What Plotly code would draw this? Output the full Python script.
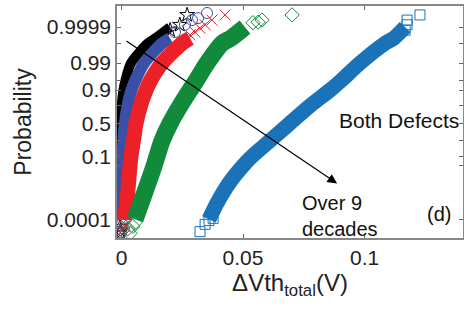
import plotly.graph_objects as go
from statistics import NormalDist

ND = NormalDist()

def z(p):
    return [ND.inv_cdf(v) for v in p]

# ---------------- data (probability, ΔVth_total in V) ----------------
# probability levels at which each band was read
band_p = [1e-4, 0.001, 0.01, 0.05, 0.1, 0.25, 0.5, 0.75, 0.9, 0.95, 0.99, 0.999, 0.9995, 0.9999]

black_band_x = [-0.0006, -0.0006, -0.0006, -0.0006, -0.0005, -0.0004, -0.0002, 0.0001, 0.0008, 0.0016, 0.0039, 0.0109, 0.0140, 0.0200]
blue_band_x = [0.0, 0.0001, 0.0002, 0.0004, 0.0005, 0.0008, 0.0014, 0.0025, 0.0041, 0.0056, 0.0093, 0.0167, 0.0200, None]
red_band_x = [0.0012, 0.0021, 0.0029, 0.0035, 0.0039, 0.0049, 0.0060, 0.0078, 0.0101, 0.0119, 0.0167, 0.0249, 0.0282, None]
green_band_x = [0.0056, 0.0080, 0.0109, 0.0134, 0.0146, 0.0167, 0.0200, 0.0241, 0.0282, 0.0307, 0.0352, 0.0414, 0.0450, 0.0508]
sky_band_x = [0.0360, 0.0393, 0.0442, 0.0500, 0.0537, 0.0611, 0.0693, 0.0776, 0.0858, 0.0903, 0.0981, 0.1084, 0.1120, 0.1167]

# sparse extreme points (drawn as individual open markers)
black_tail_p = [1.2e-5, 1.7e-5, 3.0e-5, 0.99984, 0.99993, 0.999986]
black_tail_x = [-0.0006, -0.0004, -0.0006, 0.020, 0.024, 0.027]
blue_tail_p = [1.2e-5, 2.4e-5, 5.0e-5, 0.99979, 0.99993, 0.999967, 0.999976, 0.99999]
blue_tail_x = [-0.0002, 0.001, 0.0003, 0.022, 0.0261, 0.029, 0.0315, 0.0352]
red_tail_p = [1.7e-5, 3.3e-5, 6.0e-5, 0.99968, 0.99979, 0.99988, 0.99993, 0.999967, 0.999986]
red_tail_x = [0.0002, 0.0014, 0.0008, 0.0282, 0.0302, 0.0323, 0.0344, 0.0372, 0.0426]
green_tail_p = [2.35e-5, 1.02e-5, 3.3e-5, 6.15e-5, 0.99995, 0.999954, 0.999967, 0.999986]
green_tail_x = [0.0027, 0.0035, 0.0047, 0.0056, 0.0541, 0.0562, 0.0578, 0.0702]
sky_tail_p = [1.39e-5, 4.6e-5, 8.5e-5, 1.17e-4, 0.99984, 0.99993, 0.999967, 0.999986]
sky_tail_x = [0.0323, 0.0344, 0.0360, 0.0377, 0.1167, 0.1175, 0.1175, 0.1228]

ytick_probs = [0.0001, 0.1, 0.5, 0.9, 0.99, 0.9999]
ytick_labels = ["0.0001", "0.1", "0.5", "0.9", "0.99", "0.9999"]
yminor_probs = [0.05, 0.25, 0.75, 0.95, 0.999]
xtick_vals = [0, 0.05, 0.1]
xtick_labels = ["0", "0.05", "0.1"]

FONT = "Liberation Sans, Arial, sans-serif"

series = [
    (black_band_x, black_tail_x, black_tail_p, "#000000", "star-open", 10, 11),
    (blue_band_x, blue_tail_x, blue_tail_p, "#3c4fa6", "circle-open", 12, 11),
    (red_band_x, red_tail_x, red_tail_p, "#ec2027", "x-thin-open", 15, 11),
    (green_band_x, green_tail_x, green_tail_p, "#118a3c", "diamond-open", 17, 11),
    (sky_band_x, sky_tail_x, sky_tail_p, "#1a72b8", "square-open", 15, 10),
]

fig = go.Figure()
for bx, tx, tp, col, sym, lw, ms in series:
    px = [x for x in bx if x is not None]
    pp = [p for p, x in zip(band_p, bx) if x is not None]
    fig.add_trace(go.Scatter(
        x=px, y=z(pp), mode="lines",
        line=dict(color=col, width=lw, shape="spline", smoothing=0.8),
        showlegend=False, hoverinfo="skip"))
    fig.add_trace(go.Scatter(
        x=tx, y=z(tp), mode="markers",
        marker=dict(symbol=sym, size=ms, color=col, line=dict(color=col, width=1)),
        showlegend=False, hoverinfo="skip"))

# arrow
fig.add_annotation(x=0.0887, y=ND.inv_cdf(0.0099), ax=0.0014, ay=ND.inv_cdf(0.99936),
                   xref="x", yref="y", axref="x", ayref="y", text="",
                   showarrow=True, arrowhead=2, arrowsize=1.6, arrowwidth=1.2,
                   arrowcolor="#000000")

fig.add_annotation(x=0.0735, y=ND.inv_cdf(0.00016), xref="x", yref="y",
                   text="Over 9<br>decades", showarrow=False, xanchor="left",
                   yanchor="middle", align="left",
                   font=dict(family=FONT, size=20, color="#111"))
fig.add_annotation(x=0.1305, y=ND.inv_cdf(0.00023), xref="x", yref="y",
                   text="(d)", showarrow=False, xanchor="center", yanchor="middle",
                   font=dict(family=FONT, size=20, color="#111"))
fig.add_annotation(x=0.1395, y=ND.inv_cdf(0.535), xref="x", yref="y",
                   text="Both Defects", showarrow=False, xanchor="right", yanchor="middle",
                   font=dict(family=FONT, size=21, color="#111"))

fig.update_layout(
    width=464, height=320,
    margin=dict(l=117, r=1, t=6, b=82),
    paper_bgcolor="white", plot_bgcolor="white",
    font=dict(family=FONT, size=21, color="#222"),
    xaxis=dict(range=[-0.00185, 0.1405], tickvals=xtick_vals, ticktext=xtick_labels,
               ticks="inside", ticklen=4, tickcolor="#666", showline=True,
               linecolor="#888", linewidth=1.5, mirror="ticks", showgrid=False,
               zeroline=False, tickfont=dict(size=21), automargin=False,
               title=dict(text="ΔVth<sub>total</sub>(V)", font=dict(size=24), standoff=3)),
    yaxis=dict(range=[-4.438, 4.535], tickvals=z(ytick_probs), ticktext=ytick_labels,
               ticks="inside", ticklen=4, tickcolor="#666", showline=True,
               linecolor="#888", linewidth=1.5, mirror="ticks", showgrid=False,
               zeroline=False, tickfont=dict(size=21), automargin=False,
               minor=dict(tickvals=z(yminor_probs), ticks="inside", ticklen=4,
                          tickcolor="#666"),
               title=dict(text="Probability", font=dict(size=23), standoff=9)),
)

fig.write_html("out.html", config={"displayModeBar": False},
               post_script="document.body.style.margin='0';document.body.style.overflow='hidden';")
